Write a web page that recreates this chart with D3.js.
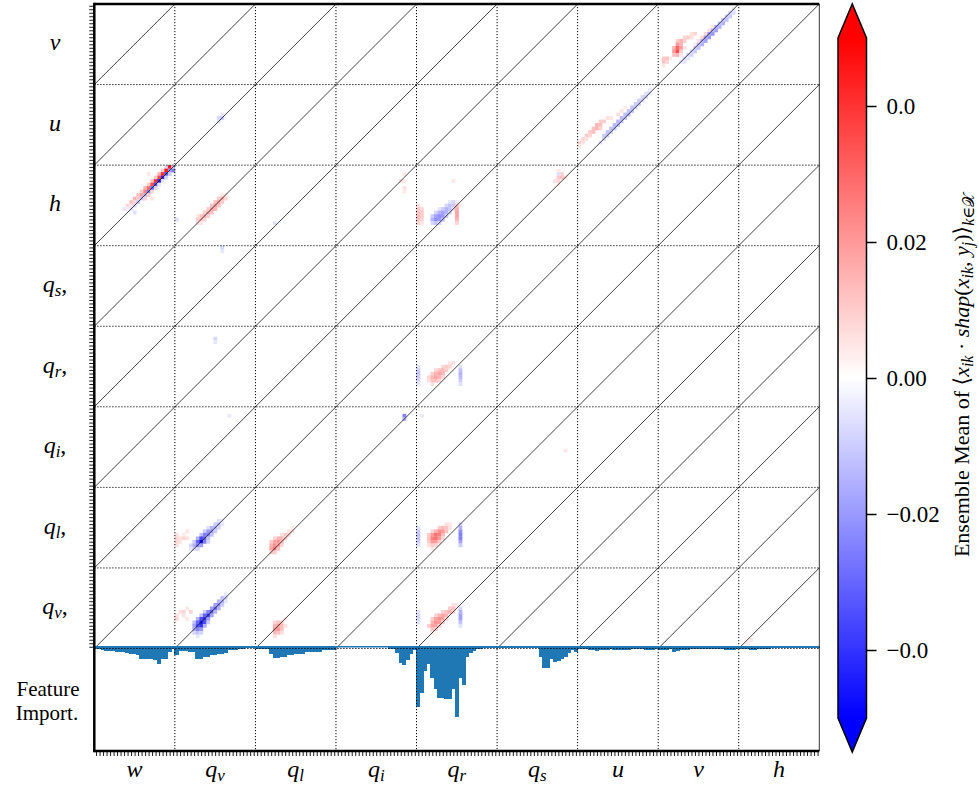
<!DOCTYPE html>
<html lang="en">
<head>
<meta charset="UTF-8">
<title>SHAP interaction matrix</title>
<style>
  body { margin: 0; background: #fff; }
  text { font-family: "Liberation Serif", "DejaVu Serif", serif; fill: #000; }
  .grid { stroke: #000; stroke-width: 1; stroke-dasharray: 1.2,1.8; fill: none; }
  .diag { stroke: #111; stroke-width: 0.8; }
  .spine { stroke: #000; stroke-width: 2.5; }
  .imp { fill: #1f77b4; }
  .tick line { stroke: #000; }
</style>
</head>
<body>
<svg width="979" height="785"></svg>
<script src="https://d3js.org/d3.v7.min.js"></script>
<script>
// variables: inputs along x, outputs along y (top to bottom)
var inVars = ["w", "q_v", "q_l", "q_i", "q_r", "q_s", "u", "v", "h"];
var outVars = ["v", "u", "h", "q_s", "q_r", "q_i", "q_l", "q_v"];
var outLabels = ["v", "u", "h", "q_s,", "q_r,", "q_i,", "q_l,", "q_v,"];
var nLev = 23;

var cbTicks = [0.04, 0.02, 0, -0.02, -0.04];
var cbTickLabels = ["0.0", "0.02", "0.00", "\u22120.02", "\u22120.0"];

// feature importance per input level (arbitrary units)
var impW  = [0.02,0.02,0.03,0.04,0.04,0.04,0.05,0.05,0.05,0.06,0.07,0.07,0.08,0.117,0.117,0.117,0.117,0.125,0.167,0.117,0.117,0.053,0.02];
var impQv = [0.083,0.04,0.04,0.04,0.05,0.05,0.123,0.123,0.097,0.097,0.083,0.083,0.073,0.073,0.057,0.03,0.03,0.03,0.015,0.015,0.01,0.01,0.01];
var impQl = [0.02,0.02,0.02,0.02,0.073,0.107,0.107,0.097,0.097,0.083,0.083,0.073,0.073,0.073,0.05,0.05,0.05,0.05,0.047,0.03,0.03,0.03,0.03];
var impQi = [0.003,0.003,0.003,0.003,0.003,0.003,0.003,0.003,0.003,0.003,0.003,0.003,0.003,0.003,0.003,0.017,0.017,0.057,0.157,0.183,0.13,0.073,0.03];
var impQr = [0.597,0.463,0.237,0.17,0.307,0.423,0.507,0.507,0.523,0.523,0.417,0.697,0.307,0.377,0.097,0.063,0.04,0.017,0.015,0.013,0.012,0.01,0.01];
var impQs = [0.008,0.008,0.008,0.008,0.008,0.008,0.008,0.008,0.008,0.008,0.01,0.01,0.097,0.207,0.207,0.12,0.147,0.14,0.12,0.097,0.057,0.03,0.045];
var impU  = [0.015,0.015,0.015,0.03,0.03,0.037,0.03,0.03,0.03,0.015,0.027,0.027,0.027,0.027,0.027,0.015,0.015,0.015,0.015,0.027,0.027,0.027,0.015];
var impV  = [0.025,0.025,0.025,0.015,0.05,0.04,0.027,0.027,0.027,0.023,0.023,0.023,0.023,0.023,0.023,0.023,0.023,0.023,0.023,0.03,0.03,0.03,0.015];
var impH  = [0.02,0.02,0.02,0.03,0.03,0.02,0.02,0.02,0.02,0.012,0.012,0.012,0.012,0.012,0.012,0.012,0.012,0.012,0.012,0.012,0.012,0.012,0.012];

// heatmap patches: each run = [out level b (from bottom), first in level a, values in 1e-3 ...]
var blobHW = [[22,20,-8,45,-10],[21,19,10,45,-20,-25],[20,18,15,40,-35,-10],[19,17,10,35,-40,-8],
  [18,16,12,40,-45,-5],[17,15,10,35,-35,-5],[16,14,15,30,-30,-8],[15,13,10,25,-25,8],[14,12,12,18,-15,10],
  [13,11,15,10,-12,8],[12,10,12,8,-10],[11,9,8,5,-8],[10,8,-5,4,-6],[20,15,5],[13,16,5],[9,11,-6]];
var blobHQv = [[14,13,5,5],[13,12,10,15,8],[12,11,12,18,10],[11,10,12,18,12],[10,9,10,18,15],[9,8,10,16,12],
  [8,6,5,12,15,10],[7,6,10,12,8],[6,6,6,5],[7,0,-6]];
var blobUQv = [[14,13,-5],[13,12,-8,-10],[12,12,-6]];
var blobHQl = [[6,5,-6]];
var blobHQi = [[20,19,5],[18,18,6,4],[16,19,6],[15,19,4]];
var blobHQr = [[18,10,5],[12,9,-5,-8,-4],[11,0,6],[11,8,-8,-12,-10,12,4],[10,0,10,8],[10,6,-5,-10,-15,-12,-6,16],
  [9,0,12,10],[9,5,-8,-15,-18,-15,-8,0,18],[8,0,14,10],[8,4,-10,-18,-22,-20,-10,0,0,18],
  [7,0,12,8],[7,4,-15,-22,-20,-12,0,0,0,15],[6,0,8,5],[6,4,-8,-12,-8,0,0,0,0,8]];
var blobHQs = [[21,17,4],[20,17,-6,8],[19,17,10,12,6],[18,16,6,8],[17,17,4]];
var blobQsQv = [[22,13,-8],[21,13,-5]];
var blobQrQv = [[19,11,-8],[18,11,-5]];
var blobQrQr = [[12,9,5,6],[11,0,-6],[11,7,8,10,8,0,0,-6],[10,0,-10],[10,5,8,12,14,10,0,0,0,-12],
  [9,0,-12],[9,4,10,15,18,14,0,0,0,0,-15],[8,0,-10],[8,3,8,14,18,15,8,0,0,0,0,-14],
  [7,0,-8],[7,3,6,12,12,8,0,0,0,0,0,-10],[6,0,-5],[6,4,6,0,0,0,0,0,0,0,-6]];
var blobQiQi = [[20,19,-25],[19,19,-15]];
var blobQiQr = [[20,1,-5]];
var blobQiQv = [[20,15,-4]];
var blobQiQs = [[10,19,5]];
var blobQlQv = [[13,12,-6,-4],[12,11,-10,-12,-5],[11,9,-6,-15,-15,-8],[10,3,5,0,0,0,0,-10,-20,-20,-10],
  [9,0,6,0,4,0,0,0,0,-12,-25,-25,-12],[8,0,8,6,8,6,0,0,-15,-35,-30,-12],[7,0,8,5,0,0,0,-10,-30,-48,-25,-8],
  [6,0,6,0,0,0,-8,-15,-25,-18],[5,4,-5,-8,-8]];
var blobQlQl = [[11,10,4],[10,9,6,6],[9,7,6,10,8],[8,5,8,14,15,10],[7,4,10,18,20,14],[6,4,15,22,18,8],[5,4,18,25,12],[4,4,10,10]];
var blobQlQr = [[12,8,6,5,0,0,-8],[11,0,-6],[11,6,10,14,12,6,0,0,-15],[10,0,-10],[10,4,8,15,22,20,12,0,0,0,-22],
  [9,0,-12],[9,3,10,20,28,25,14,0,0,0,0,-25],[8,0,-12],[8,3,12,25,28,20,8,0,0,0,0,-25],
  [7,0,-10],[7,3,10,20,20,10,0,0,0,0,0,-18],[6,0,-6],[6,3,6,10,8,0,0,0,0,0,0,-10],[5,4,5]];
var blobQvQv = [[15,14,-5],[14,13,-12,-8],[13,12,-15,-15,-5],[12,11,-18,-22,-10],[11,3,5,0,0,0,0,0,0,-20,-28,-15],
  [10,1,6,8,0,8,0,0,0,-10,-25,-32,-15],[9,0,6,0,6,0,0,0,0,-12,-30,-38,-18],[8,0,8,0,0,5,0,0,-15,-35,-40,-20],
  [7,5,-12,-30,-45,-35,-10],[6,5,-18,-35,-40,-15],[5,5,-15,-25,-20],[4,5,-8,-12,-8],[3,6,-5]];
var blobQvQl = [[8,8,5],[7,5,8,12,10],[6,5,15,18,14,6],[5,5,20,20,12],[4,5,14,12,6],[3,5,6]];
var blobQvQr = [[12,10,6,5],[11,9,10,12,0,-8],[10,0,-6],[10,7,8,12,15,8,0,-15],[9,0,-8],[9,5,8,14,18,15,0,0,0,-18],
  [8,0,-8],[8,4,10,18,22,18,8,0,0,0,-18],[7,0,-6],[7,4,15,22,20,10,0,0,0,0,-12],
  [6,3,10,18,18,10,0,0,0,0,0,-6],[5,4,12,10],[4,4,5]];
var blobQvH = [[2,3,5],[1,2,4]];
var blobVV = [[21,21,-5],[20,20,-8,-6],[19,19,-10,-10],[18,18,-12,-12],[17,17,-12,-15],[16,15,5,-15,-15],[15,14,6,-15,-18],
  [14,9,6,8,0,0,8,-18,-20],[13,7,8,10,6,0,0,8,-18,-20],[12,5,10,15,10,0,0,0,6,-15,-18],[11,5,20,15,0,0,0,4,-12,-15],
  [10,4,15,30,20,6,0,0,-10,-12],[9,4,20,35,10,0,0,-8,-10],[8,4,12,15,4,0,-8,-8],[7,1,10,12,4,0,0,0,-8,-5],
  [6,1,12,8,0,0,0,-5,-5],[5,1,5]];
var blobUU = [[21,20,-4],[20,19,-6,-6],[19,18,-8,-8],[18,17,-10,-8],[17,16,-10,-10],[16,13,4,0,-12,-10],[15,12,5,0,-12,-12],
  [14,11,6,0,-12,-14],[13,8,6,5,0,0,-14,-12],[12,6,10,10,0,0,0,-14,-12],[11,5,15,12,0,0,0,-14,-12],
  [10,4,12,15,8,0,0,-12,-12],[9,3,10,12,0,0,0,-12,-10],[8,2,10,8,0,0,0,-10,-10],[7,1,8,6,0,0,0,0,-8],
  [6,0,8,6,0,0,0,0,-6],[5,0,5]];

var importance = {w: impW, q_v: impQv, q_l: impQl, q_i: impQi, q_r: impQr, q_s: impQs, u: impU, v: impV, h: impH};
var blobs = [
  {out: "h", inp: "w", runs: blobHW}, {out: "h", inp: "q_v", runs: blobHQv}, {out: "u", inp: "q_v", runs: blobUQv},
  {out: "h", inp: "q_l", runs: blobHQl}, {out: "h", inp: "q_i", runs: blobHQi}, {out: "h", inp: "q_r", runs: blobHQr},
  {out: "h", inp: "q_s", runs: blobHQs}, {out: "q_s", inp: "q_v", runs: blobQsQv}, {out: "q_r", inp: "q_v", runs: blobQrQv},
  {out: "q_r", inp: "q_r", runs: blobQrQr}, {out: "q_i", inp: "q_i", runs: blobQiQi}, {out: "q_i", inp: "q_r", runs: blobQiQr},
  {out: "q_i", inp: "q_v", runs: blobQiQv}, {out: "q_i", inp: "q_s", runs: blobQiQs}, {out: "q_l", inp: "q_v", runs: blobQlQv},
  {out: "q_l", inp: "q_l", runs: blobQlQl}, {out: "q_l", inp: "q_r", runs: blobQlQr}, {out: "q_v", inp: "q_v", runs: blobQvQv},
  {out: "q_v", inp: "q_l", runs: blobQvQl}, {out: "q_v", inp: "q_r", runs: blobQvQr}, {out: "q_v", inp: "h", runs: blobQvH},
  {out: "v", inp: "v", runs: blobVV}, {out: "u", inp: "u", runs: blobUU}
];

var cells = [];
blobs.forEach(function (bl) {
  bl.runs.forEach(function (r) {
    for (var k = 2; k < r.length; k++) {
      if (r[k] !== 0) cells.push({out: bl.out, inp: bl.inp, b: r[0], a: r[1] + k - 2, v: r[k] / 1000});
    }
  });
});

var svg = d3.select("svg");
var L = 94.3, R = 819.3, T = 4, HB = 648.5, B = 751;

var x = d3.scaleBand().domain(inVars).range([L, R]);
var y = d3.scaleBand().domain(outVars).range([T, HB]);
var cell = x.bandwidth();
var lev = d3.scaleLinear().domain([0, nLev]).range([0, cell]);
var color = d3.scaleLinear().domain([-0.05, 0, 0.05]).range(["#0000ff", "#ffffff", "#ff0000"]).clamp(true);
var yImp = d3.scaleLinear().domain([0, 1.03]).range([647, 750]);

// heatmap pixels
svg.append("g").selectAll("rect").data(cells).enter().append("rect")
  .attr("x", function (d) { return x(d.inp) + lev(d.a); })
  .attr("y", function (d) { return y(d.out) + cell - lev(d.b + 1); })
  .attr("width", lev(1) + 0.3)
  .attr("height", lev(1) + 0.3)
  .attr("fill", function (d) { return color(d.v); });

// diagonals
var pairs = [];
outVars.forEach(function (o) { inVars.forEach(function (i) { pairs.push({o: o, i: i}); }); });
svg.append("g").selectAll("line").data(pairs).enter().append("line")
  .attr("class", "diag")
  .attr("x1", function (d) { return x(d.i); })
  .attr("y1", function (d) { return y(d.o) + cell; })
  .attr("x2", function (d) { return x(d.i) + cell; })
  .attr("y2", function (d) { return y(d.o); });

// feature importance bars
var bars = [];
inVars.forEach(function (v) { importance[v].forEach(function (val, a) { bars.push({inp: v, a: a, v: val}); }); });
svg.append("g").attr("shape-rendering", "crispEdges").selectAll("rect").data(bars).enter().append("rect")
  .attr("class", "imp")
  .attr("x", function (d) { return x(d.inp) + lev(d.a) - 0.4; })
  .attr("y", 647)
  .attr("width", lev(1) + 0.8)
  .attr("height", function (d) { return yImp(d.v) - 647; });

// dotted grid
var grid = svg.append("g");
inVars.slice(1).forEach(function (v) {
  grid.append("line").attr("class", "grid").attr("x1", x(v)).attr("x2", x(v)).attr("y1", T).attr("y2", B);
});
outVars.forEach(function (v, i) {
  if (i === 0) return;
  grid.append("line").attr("class", "grid").attr("x1", L).attr("x2", R).attr("y1", y(v)).attr("y2", y(v));
});
grid.append("line").attr("class", "grid").attr("x1", L).attr("x2", R).attr("y1", HB).attr("y2", HB);
svg.append("line").attr("x1", L).attr("x2", R).attr("y1", 646.8).attr("y2", 646.8)
  .attr("stroke", "#1f77b4").attr("stroke-width", 1.6);

// minor tick combs
var yAll = d3.scaleLinear().domain([0, outVars.length * nLev]).range([HB, T]);
var xAll = d3.scaleLinear().domain([0, inVars.length * nLev]).range([L, R]);
var gl = svg.append("g").attr("transform", "translate(" + L + ",0)")
  .call(d3.axisLeft(yAll).tickValues(d3.range(0.5, outVars.length * nLev, 1)).tickFormat("").tickSize(5));
var gb = svg.append("g").attr("transform", "translate(0," + B + ")")
  .call(d3.axisBottom(xAll).tickValues(d3.range(0.5, inVars.length * nLev, 1)).tickFormat("").tickSize(5));
gl.select(".domain").remove();
gb.select(".domain").remove();
svg.selectAll(".tick line").attr("stroke-width", 0.9);

// spines
svg.append("line").attr("class", "spine").attr("x1", L).attr("x2", L).attr("y1", T - 1.2).attr("y2", B + 1.2);
svg.append("line").attr("class", "spine").attr("x1", L).attr("x2", R).attr("y1", T).attr("y2", T);
svg.append("line").attr("class", "spine").attr("x1", L).attr("x2", R).attr("y1", B).attr("y2", B);
svg.append("line").attr("x1", R).attr("x2", R).attr("y1", T).attr("y2", B).attr("stroke", "#000").attr("stroke-width", 0.8);

// labels
function varLabel(sel, name) {
  var parts = name.split("_");
  sel.append("tspan").style("font-style", "italic").text(parts[0]);
  if (parts.length > 1) {
    var sub = parts[1].replace(",", "");
    sel.append("tspan").attr("dy", 4).style("font-style", "italic").style("font-size", "17px").text(sub);
    if (parts[1].indexOf(",") >= 0) sel.append("tspan").attr("dy", -4).text(",");
  }
}
outVars.forEach(function (v, i) {
  var t = svg.append("text").attr("x", 55).attr("y", y(v) + cell / 2 + 6)
    .attr("text-anchor", "middle").style("font-size", "24px");
  varLabel(t, outLabels[i]);
});
inVars.forEach(function (v) {
  var t = svg.append("text").attr("x", x(v) + cell / 2).attr("y", 777)
    .attr("text-anchor", "middle").style("font-size", "24px");
  varLabel(t, v);
});
svg.append("text").attr("x", 48).attr("y", 696).attr("text-anchor", "middle").style("font-size", "21px").text("Feature");
svg.append("text").attr("x", 47).attr("y", 720).attr("text-anchor", "middle").style("font-size", "21px").text("Import.");

// colorbar
var cbY = d3.scaleLinear().domain([-0.05, 0.05]).range([718, 38]);
var grad = svg.append("defs").append("linearGradient").attr("id", "bwr")
  .attr("x1", 0).attr("y1", 0).attr("x2", 0).attr("y2", 1);
grad.append("stop").attr("offset", "0%").attr("stop-color", color(0.05));
grad.append("stop").attr("offset", "50%").attr("stop-color", color(0));
grad.append("stop").attr("offset", "100%").attr("stop-color", color(-0.05));
var cx0 = 838, cx1 = 866.5, cxm = (cx0 + cx1) / 2;
svg.append("rect").attr("x", cx0).attr("y", cbY(0.05)).attr("width", cx1 - cx0)
  .attr("height", cbY(-0.05) - cbY(0.05)).attr("fill", "url(#bwr)");
svg.append("path").attr("d", "M" + cx0 + "," + cbY(0.05) + "L" + cxm + ",4L" + cx1 + "," + cbY(0.05) + "Z").attr("fill", color(0.05));
svg.append("path").attr("d", "M" + cx0 + "," + cbY(-0.05) + "L" + cxm + ",752L" + cx1 + "," + cbY(-0.05) + "Z").attr("fill", color(-0.05));
svg.append("path")
  .attr("d", "M" + cx0 + "," + cbY(-0.05) + "L" + cx0 + "," + cbY(0.05) + "L" + cxm + ",4L" + cx1 + "," + cbY(0.05) +
    "L" + cx1 + "," + cbY(-0.05) + "L" + cxm + ",752Z")
  .attr("fill", "none").attr("stroke", "#000").attr("stroke-width", 1.5);
var cbAxis = svg.append("g").attr("transform", "translate(" + cx1 + ",0)")
  .call(d3.axisRight(cbY).tickValues(cbTicks).tickFormat(function (d, i) { return cbTickLabels[i]; }).tickSize(10).tickPadding(10));
cbAxis.select(".domain").remove();
cbAxis.selectAll(".tick line").attr("stroke-width", 1.5);
cbAxis.selectAll("text").style("font-family", "Liberation Serif, DejaVu Serif, serif").style("font-size", "23px");

var lab = svg.append("text").attr("transform", "translate(969,375) rotate(-90)")
  .attr("text-anchor", "middle").style("font-size", "22px");
lab.append("tspan").text("Ensemble Mean of \u27E8");
lab.append("tspan").style("font-style", "italic").text("x");
lab.append("tspan").attr("dy", 4).style("font-style", "italic").style("font-size", "16px").text("ik");
lab.append("tspan").attr("dy", -4).text(" \u00B7 ");
lab.append("tspan").style("font-style", "italic").text("shap");
lab.append("tspan").text("(");
lab.append("tspan").style("font-style", "italic").text("x");
lab.append("tspan").attr("dy", 4).style("font-style", "italic").style("font-size", "16px").text("ik");
lab.append("tspan").attr("dy", -4).text(", ");
lab.append("tspan").style("font-style", "italic").text("y");
lab.append("tspan").attr("dy", 4).style("font-style", "italic").style("font-size", "16px").text("j");
lab.append("tspan").attr("dy", -4).text(")\u27E9");
lab.append("tspan").attr("dy", 5).style("font-style", "italic").style("font-size", "16px").text("k\u2208");
lab.append("tspan").style("font-family", "DejaVu Sans").style("font-style", "normal").style("font-size", "16px").text("\uD835\uDCB3");
</script>
</body>
</html>
